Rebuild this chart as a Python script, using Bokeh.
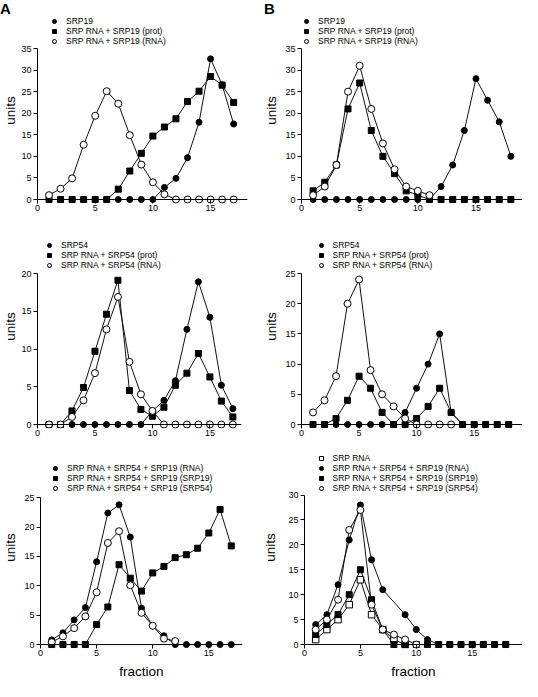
from bokeh.plotting import figure
from bokeh.models import Range1d, FixedTicker, Legend, LegendItem, Span, Div
from bokeh.layouts import column, row
from bokeh.embed import file_html
from bokeh.resources import INLINE

FONT = "Liberation Sans"

# ---------------- data ----------------
x_tick_labels = [0, 5, 10, 15]

# Panel A, top
a1_x = list(range(1, 18))
a1_srp19 = [0, 0, 0, 0, 0, 0, 0, 0, 0, 0, 2.8, 4.9, 9.7, 17.9, 32.6, 26.6, 17.5]
a1_prot = [0, 0, 0, 0, 0, 0, 2.4, 6.6, 10.7, 14.7, 16.8, 18.7, 22.7, 25.1, 28.5, 26.5, 22.5]
a1_rna = [1.0, 2.5, 4.9, 12.7, 19.4, 25.1, 22.2, 14.9, 8.1, 4.0, 1.2, 0, 0, 0, 0, 0, 0]

# Panel B, top
b1_x = list(range(1, 19))
b1_srp19 = [0, 0, 0, 0, 0, 0, 0, 0, 0, 0, 0, 3, 8, 16, 28, 23, 18, 10]
b1_prot = [2, 4, 8, 21, 27, 16, 10, 6, 2, 1, 0, 0, 0, 0, 0, 0, 0, 0]
b1_rna_x = list(range(1, 12))
b1_rna = [1, 3, 8, 25, 31, 21, 13, 7, 3, 2, 1]

# Panel A, middle
a2_x = list(range(1, 18))
a2_srp54 = [0, 0, 0, 0, 0, 0, 0, 0, 0, 1.8, 3.2, 5.8, 12.6, 18.9, 14.2, 5.2, 2.1]
a2_prot = [0, 0, 1.8, 4.9, 9.7, 14.6, 19.1, 4.5, 2.0, 1.1, 2.3, 5.2, 6.8, 9.4, 6.3, 3.1, 1.0]
a2_rna = [0, 0, 1.0, 3.2, 6.8, 12.6, 16.9, 8.3, 4.0, 1.8, 0, 0, 0, 0, 0, 0, 0]

# Panel B, middle
b2_x = list(range(1, 19))
b2_srp54 = [0, 0, 0, 0, 0, 0, 0, 0, 2, 6, 10, 15, 2, 0, 0, 0, 0, 0]
b2_prot = [0, 0, 1, 4, 8, 6, 2, 0, 0, 1, 3, 6, 2, 0, 0, 0, 0, 0]
b2_rna_x = list(range(1, 14))
b2_rna = [2, 4, 8, 20, 24, 9, 5, 3, 1, 0, 0, 0, 0]

# Panel A, bottom
a3_x = list(range(1, 18))
a3_rna = [0.8, 2.0, 4.2, 6.3, 14.1, 22.4, 23.8, 18.3, 6.2, 3.2, 1.5, 0, 0, 0, 0, 0, 0]
a3_srp19 = [0, 0, 0, 0, 3.4, 6.4, 13.6, 11.3, 9.1, 12.2, 13.3, 14.8, 15.3, 16.4, 19.0, 23.0, 16.8]
a3_srp54_x = list(range(1, 13))
a3_srp54 = [0.4, 1.4, 2.8, 4.8, 8.9, 17.3, 19.3, 10.1, 5.4, 3.2, 1.0, 0.6]

# Panel B, bottom
b3_srprna_x = list(range(1, 10))
b3_srprna = [1, 3, 5, 8, 13, 6, 3, 1, 0]
b3_rna_x = [1, 2, 3, 4, 5, 6, 7, 9, 10, 11, 12, 13, 14, 15, 16, 17, 18]
b3_rna = [4, 6, 12, 21, 28, 17, 11, 6, 3, 1, 0, 0, 0, 0, 0, 0, 0]
b3_srp19_x = list(range(1, 19))
b3_srp19 = [2, 4, 6, 10, 15, 9, 3, 0, 0, 0, 0, 0, 0, 0, 0, 0, 0, 0]
b3_srp54_x = list(range(1, 11))
b3_srp54 = [3, 5, 9, 23, 27, 8, 3, 2, 1, 0]

# ---------------- styles ----------------
STYLES = {
    "fc": dict(marker="circle", size=6, fill_color="black", line_color="black"),
    "fs": dict(marker="square", size=6, fill_color="black", line_color="black"),
    "oc": dict(marker="circle", size=7, fill_color="white", line_color="black", line_width=1),
    "os": dict(marker="square", size=6.5, fill_color="white", line_color="black", line_width=1),
}

DROP = 4  # px between y = 0 and the frame bottom


def make_panel(series, xmax, ymax, W, H, left, right, ytop, y0,
               leg_dx, leg_vy, ylab_standoff, xlabel=None):
    fb = y0 + DROP
    k = ymax / float(y0 - ytop)
    p = figure(width=W, height=H, output_backend="svg", toolbar_location=None,
               title=None,
               x_range=Range1d(0, xmax),
               y_range=Range1d(-DROP * k, ymax + ytop * k),
               min_border_left=left, min_border_right=right,
               min_border_top=0, min_border_bottom=H - fb)
    p.outline_line_color = None
    p.xgrid.visible = False
    p.ygrid.visible = False
    p.background_fill_color = "white"
    p.border_fill_color = "white"

    for ax in (p.xaxis[0], p.yaxis[0]):
        ax.major_tick_line_color = "black"
        ax.minor_tick_out = 0
        ax.minor_tick_in = 0
        ax.major_label_text_font = FONT
        ax.major_label_text_font_size = "9px"
        ax.major_label_text_color = "black"
        ax.axis_label_text_font = FONT
        ax.axis_label_text_font_style = "normal"
        ax.axis_label_text_font_size = "13.5px"
        ax.axis_label_text_color = "black"

    xa = p.xaxis[0]
    xa.ticker = FixedTicker(ticks=x_tick_labels)
    xa.axis_line_color = None
    xa.major_tick_in = DROP
    xa.major_tick_out = 0
    xa.major_label_standoff = 1
    if xlabel:
        xa.axis_label = xlabel
        xa.axis_label_standoff = 5

    ya = p.yaxis[0]
    ya.ticker = FixedTicker(ticks=list(range(0, ymax + 1, 5)))
    ya.bounds = (0, ymax)
    ya.axis_line_color = "black"
    ya.major_tick_out = 4
    ya.major_tick_in = 0
    ya.major_label_standoff = 2
    ya.axis_label = "units"
    ya.axis_label_standoff = int(ylab_standoff)

    p.add_layout(Span(location=0, dimension="width", line_color="black", line_width=1))

    for _, xs, ys, _st in series:
        p.line(xs, ys, line_color="#111111", line_width=1)
    items = []
    for lab, xs, ys, st in series:
        r = p.scatter(xs, ys, **STYLES[st])
        items.append(LegendItem(label=lab, renderers=[r]))

    leg = Legend(items=items, location=(leg_dx, leg_vy), orientation="vertical",
                 background_fill_alpha=0, border_line_color=None,
                 padding=0, margin=0, spacing=-3, glyph_width=10, glyph_height=10,
                 label_standoff=7, label_height=8,
                 label_text_font=FONT, label_text_font_size="8.5px",
                 label_text_color="black")
    p.add_layout(leg)
    return p


LETTER_STYLE = {"font-family": FONT, "font-size": "15px", "font-weight": "bold",
                "line-height": "17px", "color": "black"}
divA = Div(text="A", width=259, height=17, margin=0,
           styles=dict(LETTER_STYLE, **{"padding-left": "0px"}))
divB = Div(text="B", width=263, height=17, margin=0,
           styles=dict(LETTER_STYLE, **{"padding-left": "5px"}))

pA1 = make_panel([("SRP19", a1_x, a1_srp19, "fc"),
                  ("SRP RNA + SRP19 (prot)", a1_x, a1_prot, "fs"),
                  ("SRP RNA + SRP19 (RNA)", a1_x, a1_rna, "oc")],
                 18.2, 35, 259, 207, 31, 12, 31, 182, 12, 157.5, 0)
pB1 = make_panel([("SRP19", b1_x, b1_srp19, "fc"),
                  ("SRP RNA + SRP19 (prot)", b1_x, b1_prot, "fs"),
                  ("SRP RNA + SRP19 (RNA)", b1_rna_x, b1_rna, "oc")],
                 19.0, 35, 263, 207, 42, 0, 31, 182, 0, 157.5, 3)
pA2 = make_panel([("SRP54", a2_x, a2_srp54, "fc"),
                  ("SRP RNA + SRP54 (prot)", a2_x, a2_prot, "fs"),
                  ("SRP RNA + SRP54 (RNA)", a2_x, a2_rna, "oc")],
                 17.75, 20, 259, 222, 31, 18, 49, 200, 7, 158.1, 0)
pB2 = make_panel([("SRP54", b2_x, b2_srp54, "fc"),
                  ("SRP RNA + SRP54 (prot)", b2_x, b2_prot, "fs"),
                  ("SRP RNA + SRP54 (RNA)", b2_rna_x, b2_rna, "oc")],
                 19.2, 25, 263, 222, 42, 0, 49, 200, 14.5, 158.1, 3)
pA3 = make_panel([("SRP RNA + SRP54 + SRP19 (RNA)", a3_x, a3_rna, "fc"),
                  ("SRP RNA + SRP54 + SRP19 (SRP19)", a3_x, a3_srp19, "fs"),
                  ("SRP RNA + SRP54 + SRP19 (SRP54)", a3_srp54_x, a3_srp54, "oc")],
                 18.0, 25, 259, 235, 31, 17, 52, 201, 10, 155.2, 3, "fraction")
pB3 = make_panel([("SRP RNA", b3_srprna_x, b3_srprna, "os"),
                  ("SRP RNA + SRP54 + SRP19 (RNA)", b3_rna_x, b3_rna, "fc"),
                  ("SRP RNA + SRP54 + SRP19 (SRP19)", b3_srp19_x, b3_srp19, "fs"),
                  ("SRP RNA + SRP54 + SRP19 (SRP54)", b3_srp54_x, b3_srp54, "oc")],
                 19.5, 30, 263, 235, 45, 0, 49, 200, 11.5, 154.6, 7, "fraction")

layout = column(row(divA, divB), row(pA1, pB1), row(pA2, pB2), row(pA3, pB3))

with open("out.html", "w") as f:
    f.write(file_html(layout, INLINE))
